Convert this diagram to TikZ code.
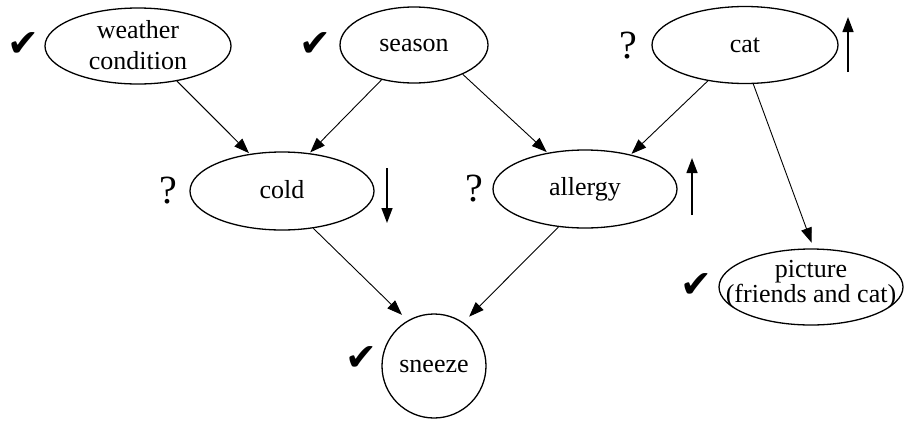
\documentclass[tikz,border=0pt]{standalone}
\usepackage{fontspec}
\setmainfont{Liberation Serif}
\newfontfamily\symfont{DejaVu Sans}
\usetikzlibrary{arrows.meta,shapes.geometric}
\begin{document}
\begin{tikzpicture}[x=1pt,y=-1pt,
  ell/.style={ellipse,draw,line width=1.3pt,inner sep=0pt},
  circ/.style={circle,draw,line width=1.3pt,inner sep=0pt,minimum size=104pt},
  txt/.style={font=\fontsize{26}{31}\selectfont,align=center,inner sep=0pt},
  edge/.style={line width=0.9pt,-{Triangle[length=15pt,width=11pt]}},
  ind/.style={line width=1.4pt,-{Triangle[length=15pt,width=11pt]}},
  chk/.style={font=\symfont\fontsize{38}{38}\selectfont,inner sep=0pt},
  qm/.style={font=\fontsize{40}{40}\selectfont,inner sep=0pt}]
\useasboundingbox (0,0) rectangle (904,421);
% ellipses
\node[ell,minimum width=186pt,minimum height=76pt] (w) at (138,46) {};
\node[txt] (wt) at (138,45) {weather\\condition};
\node[ell,minimum width=148pt,minimum height=76pt] (s) at (414,45) {};
\node[txt] (st) at (414,45) {season};
\node[ell,minimum width=186pt,minimum height=77pt] (k) at (745,45) {};
\node[txt] (kt) at (745,45) {cat};
\node[ell,minimum width=184pt,minimum height=78pt] (c) at (282,191) {};
\node[txt] (ct) at (282,190) {cold};
\node[ell,minimum width=184pt,minimum height=78pt] (a) at (585,189) {};
\node[txt] (at) at (585,189) {allergy};
\node[ell,minimum width=184pt,minimum height=76pt] (p) at (811,287) {};
\node[txt,font=\fontsize{26}{22}\selectfont] (pt) at (811,284) {picture\\(friends and cat)};
\node[circ] (z) at (434,366) {};
\node[txt] (zt) at (434,366) {sneeze};
% marks
\node[chk] (m1) at (23,45) {✔};
\node[chk] (m2) at (315,45) {✔};
\node[chk] (m3) at (696,286) {✔};
\node[chk] (m4) at (361,359) {✔};
\node[qm] (q1) at (628,46) {?};
\node[qm] (q2) at (168,191) {?};
\node[qm] (q3) at (474,189) {?};
% indicator arrows
\coordinate (u1a) at (848,72); \coordinate (u1b) at (848,17);
\coordinate (d1a) at (387,168); \coordinate (d1b) at (387,223);
\coordinate (u2a) at (692,215); \coordinate (u2b) at (692,158);
\draw[ind] (u1a) -- (u1b);
\draw[ind] (d1a) -- (d1b);
\draw[ind] (u2a) -- (u2b);
% edges
\draw[edge,shorten >=1pt] (w.-42) -- (c.131);
\draw[edge,shorten >=1pt] (s.-133) -- (c.54);
\draw[edge,shorten >=1pt] (s.-31) -- (a.136);
\draw[edge,shorten >=1pt] (k.-136) -- (a.37);
\draw[edge,shorten >=6pt] (k.-78) -- (p.86);
\draw[edge,shorten >=8pt] (c.-50) -- (z.120);
\draw[edge,shorten >=8pt] (a.-125) -- (z.56);
\end{tikzpicture}
\end{document}
